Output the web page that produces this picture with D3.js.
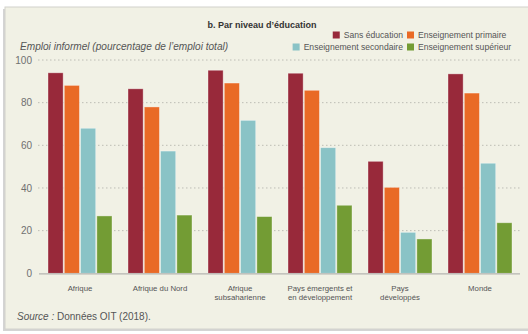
<!DOCTYPE html>
<html><head><meta charset="utf-8">
<script src="https://cdn.jsdelivr.net/npm/d3@7"></script>
<style>
body{margin:0;background:#fff;}
svg{display:block;font-family:"Liberation Sans",Arial,sans-serif;}
</style></head>
<body><svg id="c" width="528" height="334"></svg>
<script>
const categories = [["Afrique"],["Afrique du Nord"],["Afrique","subsaharienne"],["Pays émergents et","en développement"],["Pays","développés"],["Monde"]];
const seriesNames = ["Sans éducation","Enseignement primaire","Enseignement secondaire","Enseignement supérieur"];
const sansEducation = [94, 86.5, 95.2, 93.8, 52.5, 93.5];
const primaire = [88.1, 78, 89.2, 85.8, 40.3, 84.5];
const secondaire = [68, 57.3, 71.7, 58.9, 19.2, 51.6];
const superieur = [26.9, 27.3, 26.6, 31.9, 16.1, 23.7];
const yTicks = [0,20,40,60,80,100];
const colors = ["#98293A","#E96A26","#8AC3C6","#739C34"];

const series = [sansEducation, primaire, secondaire, superieur];
const svg = d3.select("#c");

// panel
svg.append("rect").attr("x",3).attr("y",9).attr("width",530).attr("height",322).attr("fill","#a9a9a9").attr("opacity",0.5);
svg.append("rect").attr("x",5).attr("y",7).attr("width",530).attr("height",322).attr("fill","#F1F1E5").attr("stroke","#d2d2cc").attr("stroke-width",1);

const y = d3.scaleLinear().domain([0,100]).range([273.3,60]);
const catKeys = categories.map(c=>c.join(" "));
const x0 = d3.scaleBand().domain(catKeys).range([39,521]).paddingInner(0.2).paddingOuter(0.1125);
const x1 = d3.scaleBand().domain(d3.range(4)).range([0,x0.bandwidth()]).paddingInner(0.07);

// gridlines
svg.append("g").selectAll("line").data(yTicks.filter(t=>t>0)).join("line")
  .attr("x1",38).attr("x2",520).attr("y1",d=>y(d)).attr("y2",d=>y(d))
  .attr("stroke","#bdbdb5").attr("stroke-width",1).attr("stroke-dasharray","1.5,2.5");

// y axis labels
const ya = svg.append("g").attr("transform","translate(32,0)").call(d3.axisLeft(y).tickValues(yTicks).tickSize(0).tickPadding(0));
ya.select(".domain").remove();
ya.selectAll("text").attr("fill","#707070").style("font-size","10px").style("font-family","Liberation Sans, Arial, sans-serif");

// bars
const groups = svg.append("g").selectAll("g").data(catKeys).join("g")
  .attr("transform",d=>`translate(${x0(d)},0)`);
groups.selectAll("rect").data((d,i)=>series.map((s,j)=>({j,v:s[i]}))).join("rect")
  .attr("x",d=>x1(d.j)).attr("width",x1.bandwidth())
  .attr("y",d=>y(d.v)).attr("height",d=>y(0)-y(d.v))
  .attr("fill",d=>colors[d.j]).attr("stroke","rgba(255,255,255,0.45)").attr("stroke-width",0.8);

// baseline
svg.append("line").attr("x1",39).attr("x2",520).attr("y1",y(0)+0.5).attr("y2",y(0)+0.5).attr("stroke","#b5b5b0").attr("stroke-width",1.2);

// category labels
const xa = svg.append("g").selectAll("text").data(categories).join("text")
  .attr("x",(d,i)=>x0(catKeys[i])+x0.bandwidth()/2).attr("y",291)
  .attr("text-anchor","middle").attr("fill","#555").style("font-size","7.8px");
xa.selectAll("tspan").data(d=>d).join("tspan")
  .attr("x",function(){return d3.select(this.parentNode).attr("x");})
  .attr("dy",(d,i)=>i===0?0:9).text(d=>d);

// title
svg.append("text").attr("x",262).attr("y",28).attr("text-anchor","middle").attr("fill","#333")
  .style("font-size","9px").style("font-weight","bold").text("b. Par niveau d’éducation");

// y title
svg.append("text").attr("x",20).attr("y",49.5).attr("fill","#555").style("font-size","10.1px").style("font-style","italic")
  .text("Emploi informel (pourcentage de l’emploi total)");

// legend: rows laid out right-aligned, measured
const rows = [[0,1],[2,3]];
const rowY = [35,47];
const lgG = svg.append("g");
const rightEdge = 513;
const colStart = 407; // second column square x
rows.forEach((row,r)=>{
  // second item: square at colStart
  const it2 = row[1], it1 = row[0];
  const g2 = lgG.append("g");
  g2.append("rect").attr("x",colStart).attr("y",rowY[r]-3.5).attr("width",7).attr("height",7).attr("fill",colors[it2]);
  const t2 = g2.append("text").attr("x",colStart+11).attr("y",rowY[r]+3.2).attr("fill","#555").style("font-size","8.6px").text(seriesNames[it2]);
  const w2 = t2.node().getComputedTextLength();
  if (w2 > rightEdge-(colStart+11)) t2.attr("textLength",rightEdge-(colStart+11)).attr("lengthAdjust","spacingAndGlyphs");
  const g1 = lgG.append("g");
  const t1 = g1.append("text").attr("x",colStart-4).attr("y",rowY[r]+3.2).attr("text-anchor","end").attr("fill","#555").style("font-size","8.6px").text(seriesNames[it1]);
  const w1 = t1.node().getComputedTextLength();
  g1.append("rect").attr("x",colStart-4-w1-11).attr("y",rowY[r]-3.5).attr("width",7).attr("height",7).attr("fill",colors[it1]);
});

// source
const src = svg.append("text").attr("x",17).attr("y",320).attr("fill","#555").style("font-size","10px");
src.append("tspan").style("font-style","italic").text("Source :");
src.append("tspan").text(" Données OIT (2018).");
</script></body></html>
